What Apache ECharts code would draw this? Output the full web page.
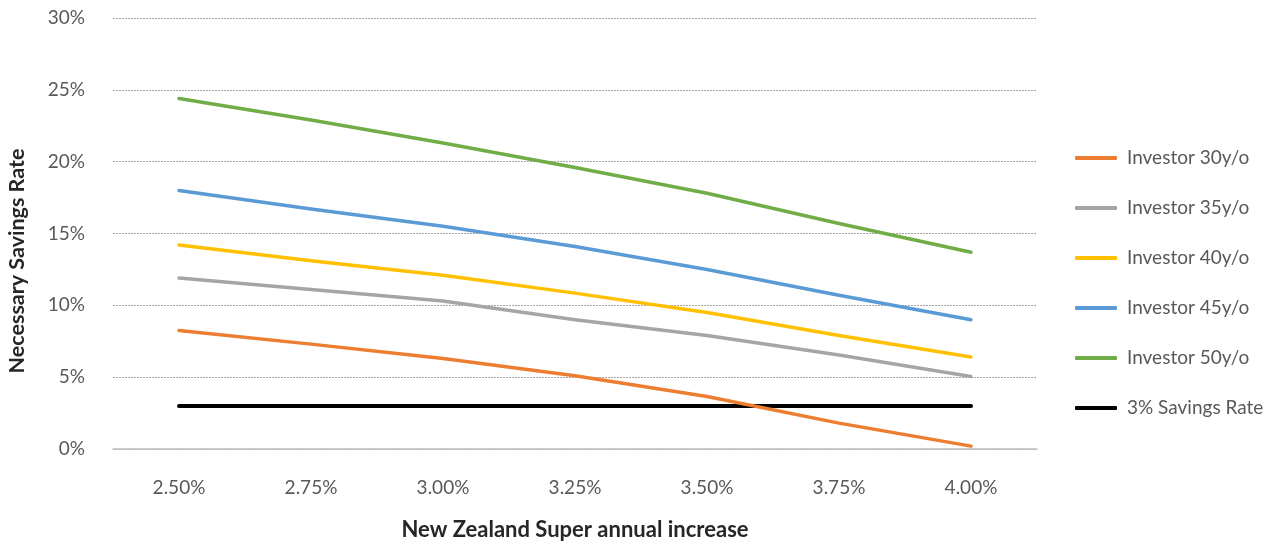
<!DOCTYPE html>
<html>
<head>
<meta charset="utf-8">
<script src="https://cdn.jsdelivr.net/npm/echarts@6/dist/echarts.min.js"></script>
<style>
  html, body { margin: 0; padding: 0; background: #fff; }
  #chart { width: 1279px; height: 542px; }
</style>
</head>
<body>
<div id="chart"></div>
<script>
// Annual increase scenarios for NZ Super (x-axis categories)
const categories = ['2.50%', '2.75%', '3.00%', '3.25%', '3.50%', '3.75%', '4.00%'];

// Necessary savings rate (%) for each investor age
const investor30 = [8.25, 7.3, 6.3, 5.1, 3.65, 1.8, 0.2];
const investor35 = [11.9, 11.1, 10.3, 9.0, 7.9, 6.55, 5.05];
const investor40 = [14.2, 13.1, 12.1, 10.85, 9.5, 7.9, 6.4];
const investor45 = [18.0, 16.7, 15.5, 14.1, 12.5, 10.7, 9.0];
const investor50 = [24.4, 22.9, 21.3, 19.6, 17.8, 15.7, 13.7];
const savingsRate3 = [3, 3, 3, 3, 3, 3, 3];

const seriesNames = ['Investor 30y/o', 'Investor 35y/o', 'Investor 40y/o', 'Investor 45y/o', 'Investor 50y/o', '3% Savings Rate'];
const seriesData = [investor30, investor35, investor40, investor45, investor50, savingsRate3];
const seriesColors = ['#ED7D31', '#A5A5A5', '#FFC000', '#5B9BD5', '#70AD47', '#000000'];
const seriesWidths = [3.5, 3.5, 3.5, 3.5, 3.5, 4];

const FONT = 'Lato, "Open Sans", sans-serif';

const chart = echarts.init(document.getElementById('chart'), null, { renderer: 'canvas' });

chart.setOption({
  animation: false,
  backgroundColor: '#ffffff',
  grid: { left: 113, right: 242, top: 18, bottom: 93, containLabel: false, outerBoundsMode: 'none' },
  // Vertical axis title, placed a little below the plot's middle
  graphic: [{
    type: 'text',
    x: 17,
    y: 261,
    rotation: Math.PI / 2,
    style: {
      text: 'Necessary Savings Rate',
      fill: '#262626',
      font: 'bold 21.5px ' + FONT,
      textAlign: 'center',
      textVerticalAlign: 'middle'
    }
  }],
  legend: {
    orient: 'vertical',
    left: 1070,
    top: 142,
    itemWidth: 42,
    itemHeight: 4,
    itemGap: 28,
    icon: 'roundRect',
    textStyle: { color: '#595959', fontSize: 19, fontFamily: FONT, padding: [0, 0, 0, 5], lineHeight: 22 },
    data: seriesNames
  },
  xAxis: {
    type: 'category',
    data: categories,
    boundaryGap: true,
    name: 'New Zealand Super annual increase',
    nameLocation: 'middle',
    nameGap: 70,
    nameTextStyle: { color: '#262626', fontSize: 22, fontWeight: 'bold', fontFamily: FONT },
    axisLine: { lineStyle: { color: '#BFBFBF', width: 1.5 } },
    axisTick: { alignWithLabel: true, length: 12, lineStyle: { color: '#A6A6A6', width: 1 } },
    axisLabel: { color: '#595959', fontSize: 19, fontFamily: FONT, margin: 29 },
    splitLine: { show: false }
  },
  yAxis: {
    type: 'value',
    min: 0,
    max: 30,
    interval: 5,
    axisLine: { show: false },
    axisTick: { show: false },
    axisLabel: { color: '#595959', fontSize: 19, fontFamily: FONT, margin: 28, formatter: v => v + '%' },
    splitLine: { lineStyle: { color: '#A6A6A6', type: [2, 1], width: 1 } }
  },
  series: seriesNames.map((name, i) => ({
    name: name,
    type: 'line',
    data: seriesData[i],
    symbol: 'none',
    smooth: false,
    z: i === 5 ? 2 : 3,
    lineStyle: { color: seriesColors[i], width: seriesWidths[i], cap: 'round', join: 'round' },
    itemStyle: { color: seriesColors[i] }
  }))
});
</script>
</body>
</html>
